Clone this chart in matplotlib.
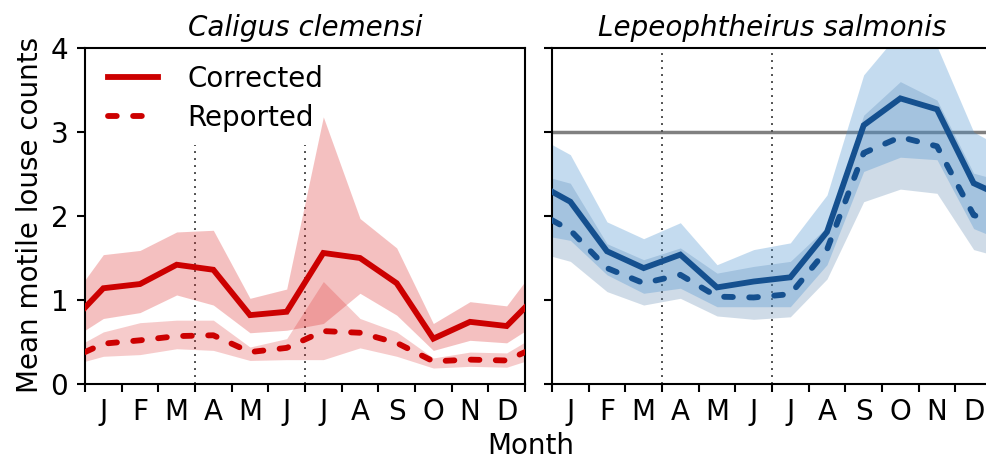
import matplotlib
matplotlib.use("Agg")
import matplotlib.pyplot as plt
import numpy as np

plt.rcParams['font.family'] = ['DejaVu Sans']

# x positions: 0 (start), month centres, 12 (end)
x_pos = [0, 0.5, 1.5, 2.5, 3.5, 4.5, 5.5, 6.5, 7.5, 8.5, 9.5, 10.5, 11.5, 12]
month_labels = ["J", "F", "M", "A", "M", "J", "J", "A", "S", "O", "N", "D"]

# Caligus clemensi
cc_corr   = [0.91, 1.14, 1.19, 1.42, 1.36, 0.82, 0.86, 1.56, 1.50, 1.20, 0.54, 0.74, 0.69, 0.91]
cc_corr_u = [1.24, 1.54, 1.59, 1.81, 1.83, 1.02, 1.13, 3.18, 1.97, 1.62, 0.72, 0.98, 0.93, 1.22]
cc_corr_l = [0.64, 0.78, 0.85, 1.06, 0.94, 0.61, 0.64, 0.72, 1.08, 0.82, 0.40, 0.52, 0.49, 0.63]
cc_rep    = [0.38, 0.48, 0.52, 0.57, 0.58, 0.38, 0.43, 0.63, 0.61, 0.49, 0.27, 0.29, 0.28, 0.38]
cc_rep_u  = [0.50, 0.62, 0.73, 0.76, 0.76, 0.44, 0.54, 1.22, 0.78, 0.62, 0.31, 0.38, 0.37, 0.50]
cc_rep_l  = [0.27, 0.33, 0.35, 0.42, 0.40, 0.28, 0.29, 0.29, 0.43, 0.33, 0.19, 0.21, 0.20, 0.27]

# Lepeophtheirus salmonis
ls_corr   = [2.29, 2.17, 1.58, 1.38, 1.54, 1.15, 1.22, 1.27, 1.81, 3.08, 3.40, 3.27, 2.39, 2.29]
ls_corr_u = [2.85, 2.73, 1.93, 1.73, 1.92, 1.42, 1.60, 1.68, 2.25, 3.68, 4.20, 4.02, 3.00, 2.88]
ls_corr_l = [1.75, 1.71, 1.30, 1.08, 1.14, 0.92, 0.92, 0.92, 1.42, 2.53, 2.70, 2.67, 1.85, 1.76]
ls_rep    = [1.95, 1.83, 1.38, 1.20, 1.30, 1.04, 1.03, 1.07, 1.60, 2.75, 2.94, 2.83, 2.01, 1.95]
ls_rep_u  = [2.45, 2.39, 1.67, 1.48, 1.62, 1.32, 1.40, 1.46, 1.87, 3.20, 3.60, 3.38, 2.51, 2.45]
ls_rep_l  = [1.52, 1.46, 1.10, 0.94, 1.02, 0.81, 0.77, 0.80, 1.25, 2.17, 2.32, 2.27, 1.60, 1.54]

threshold = 3
season_lines = [3, 6]

FS = 20
W, H = 987, 463
fig = plt.figure(figsize=(W / 100, H / 100), dpi=100)
ax1 = fig.add_axes([85 / W, (H - 384) / H, 440 / W, 336 / H])
ax2 = fig.add_axes([552 / W, (H - 384) / H, 440 / W, 336 / H])

red = "#cc0000"
blue = "#15508f"
lw = 4.2
dash = (0, (1.5, 2.8))
dot = (0, (1.0, 2.6))

def style(ax, show_y):
    ax.set_xlim(0, 12)
    ax.set_ylim(0, 4)
    ax.set_xticks(np.arange(0, 13))
    ax.set_xticklabels([])
    ax.set_xticks(np.arange(0.5, 12), minor=True)
    ax.set_xticklabels(month_labels, minor=True, fontsize=FS)
    ax.tick_params(axis='x', which='major', length=6, width=1.5, direction='out')
    ax.tick_params(axis='x', which='minor', length=0, pad=10)
    ax.set_yticks([0, 1, 2, 3, 4])
    ax.tick_params(axis='y', length=6, width=1.5, labelsize=FS, pad=6)
    if not show_y:
        ax.set_yticklabels([])
    for s in ax.spines.values():
        s.set_linewidth(1.5)

# Left panel
for xv in season_lines:
    ax1.plot([xv, xv], [0, 2.85], color="#505050", lw=1.4, linestyle=dot, zorder=1)
ax1.fill_between(x_pos, cc_rep_l, cc_rep_u, color="#dc2828", alpha=0.24, lw=0, zorder=2)
ax1.fill_between(x_pos, cc_corr_l, cc_corr_u, color="#dc2828", alpha=0.29, lw=0, zorder=2)
ax1.plot(x_pos, cc_corr, color=red, lw=lw, solid_joinstyle='miter', zorder=3, label="Corrected")
ax1.plot(x_pos, cc_rep, color=red, lw=lw, linestyle=dash, dash_capstyle='round', zorder=3, label="Reported")
style(ax1, True)
ax1.set_title("Caligus clemensi", fontsize=FS, style='italic', pad=9)
leg = ax1.legend(loc='upper left', frameon=False, fontsize=FS, handlelength=1.8,
                 handletextpad=1.05, borderaxespad=0, borderpad=0, labelspacing=0.40,
                 bbox_to_anchor=(23 / 440, 1 - 17 / 336))

# Right panel
ax2.axhline(threshold, color="#808080", lw=2.5, zorder=1)
for xv in season_lines:
    ax2.plot([xv, xv], [0, 4], color="#505050", lw=1.4, linestyle=dot, zorder=1)
ax2.fill_between(x_pos, ls_rep_l, ls_rep_u, color="#628ab2", alpha=0.30, lw=0, zorder=2)
ax2.fill_between(x_pos, ls_corr_l, ls_corr_u, color="#4a92d0", alpha=0.32, lw=0, zorder=2)
ax2.plot(x_pos, ls_corr, color=blue, lw=lw, solid_joinstyle='miter', zorder=3)
ax2.plot(x_pos, ls_rep, color=blue, lw=lw, linestyle=dash, dash_capstyle='round', zorder=3)
style(ax2, False)
ax2.set_title("Lepeophtheirus salmonis", fontsize=FS, style='italic', pad=9)

fig.text(30 / W, 1 - 215 / H, "Mean motile louse counts", rotation=90, fontsize=FS,
         ha='center', va='center')
fig.text(531 / W, 1 - 446 / H, "Month", fontsize=FS, ha='center', va='center')

fig.savefig("out.png", dpi=100)
